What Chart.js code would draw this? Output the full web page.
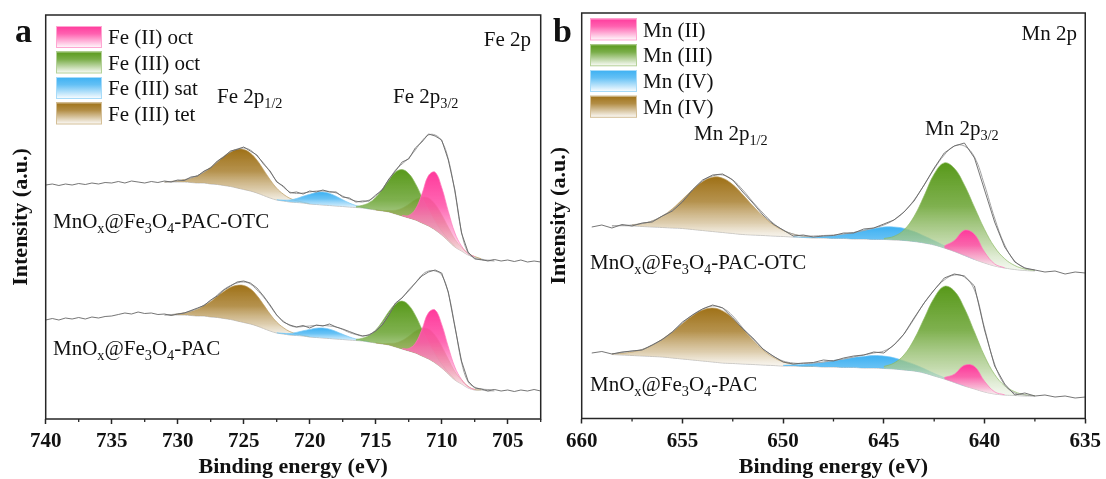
<!DOCTYPE html>
<html>
<head>
<meta charset="utf-8">
<script src="https://cdn.jsdelivr.net/npm/chart.js@4.4.0/dist/chart.umd.min.js"></script>
<style>
    html, body { margin: 0; padding: 0; background: #fff; }
    #wrap { position: relative; width: 1106px; height: 479px; overflow: hidden; }
    #feBox { position: absolute; left: 0; top: 0; }
    #mnBox { position: absolute; left: 540px; top: 0; }
</style>
</head>
<body>
<div id="wrap">
    <div id="feBox"><canvas id="feChart" width="548" height="479"></canvas></div>
    <div id="mnBox"><canvas id="mnChart" width="566" height="479"></canvas></div>
</div>
<script>
// ---- Fe 2p panel (a) ----
const feTicks = [740, 735, 730, 725, 720, 715, 710, 705];
const feMinor = [737.5, 732.5, 727.5, 722.5, 717.5, 712.5, 707.5, 702.5];

// OTC sample (upper trace)
const feOtcBase = [237,237,237,237,236.5,236,236,235,234.5,233.5,232.5,231,229.5,228,226,223.5,221,219,218,217,216.5,216,215,214.5,214,213.5,213,212.5,212,211.5,211,210,209,208,207,205,203,201,199,196,193,189,184,178,172,168,164,162,160,159,159];
const feOtcFit = [237,237.5,238,239,241,243.5,247,251.5,257,262.5,267,270,271,269,263,256,247,238,232,227,225.5,226,227,228,228,227.5,226,223,220,218,217,219,223,230,239,249,255,261,269,278,284,284,278,260,227,187,166,161,159,158.5,158];
const feOtcRaw = [234,235,233.5,235,234,235.5,234.5,236,235,236.5,236,237.5,236,238,237,236,237.5,236.5,238,237,239,238.5,242,243,248,251,258,262,268,269.5,272,268,264,255,248,237,233,226,227,225,228,227,229,227,227,222,221,217,218,218,224,229,240,248,257,260,271,277,285,283,279,259,229,186,167,160,159.5,158,159.5,158,159,157.5,159,157,158,157];
const feOtcTet1 = [0,0.6,1.2,2.4,4.3,7.3,11.5,16.8,23,29.3,34.8,38.6,40,38,33,25.8,18.3,11.8,6.9,3.7,1.8,0.8,0.3];
const feOtcSat = [0.35,0.9,2,4,6.7,9.7,12.1,13,12.1,9.7,6.7,4,2,0.9,0.35];
const feOtcOct3 = [1,2.7,6.3,12.6,21.8,32.5,41.8,46.4,44.4,36.6,26,16,8.5,3.9,1.5,0.5];
const feOtcTet2 = [0.2,0.5,1.6,3.8,7.8,13.7,20.3,25.8,28,25.8,20.3,13.7,7.8,3.8,1.6,0.5,0.2];
const feOtcOct2 = [0.4,2.6,10.6,28.9,50.5,57.8,47.5,29.6,14,5,1.4,0.3];

// PAC sample (lower trace)
const fePacBase = [104,104,104,104,103.5,103,103,102,101.5,100.5,99.5,98,96.5,95,93,90.5,88,86,85,84,83.5,83,82,81.5,81,80.5,80,79.5,79,78.5,78,77,76,75,74,72,70,68,66,63,60,56,51,45,39,35,31,29,29,28,28];
const fePacFit = [104,104.5,105,106,108,110.5,114,118.5,124,129.5,133.5,136,137,135,129,122,113,104,98,93.5,92,92.5,93,93.5,93.5,93,92,89.5,86.5,84.5,83,84.5,88.5,95.5,105,115,121.5,128,136,144,148,148,144,126,93,57,37,32,30,29.5,29];
const fePacRaw = [99,100.5,99,101,100,101.5,100,102,101,102.5,103,104.5,106,105,107,105.5,106,104.5,105,103.5,105,106,108.5,111,113.5,119,123,129,133,137,138,136,131,123,114,104,97,94,92,93.5,91,94,93,95,92,90,87.5,85,83,84,88,94,104,116,121,129,136,143,147,149,146,127,92,58,38,31,30,28,29.5,28,29,27.5,29,28,29.5,28];
const fePacTet1 = [0,1.1,2.2,4,6.8,10.6,15.5,21.3,27.1,32.2,35.7,37,35.2,30.5,23.9,16.9,10.9,6.4,3.4,1.7,0.7,0.3];
const fePacSat = [0.3,0.7,1.5,3.1,5.2,7.5,9.3,10,9.3,7.5,5.2,3.1,1.5,0.7,0.3];
const fePacOct3 = [1,2.8,6.5,13,22.5,33.5,43.1,47.9,45.8,37.8,26.8,16.5,8.8,4,1.5,0.5];
const fePacTet2 = [0.2,0.5,1.7,4.1,8.4,14.7,21.8,27.6,30,27.6,21.8,14.7,8.4,4.1,1.7,0.5,0.2];
const fePacOct2 = [0.4,2.4,9.7,26.5,46.3,53,43.6,27.1,12.8,4.6,1.3,0.3];

// ---- Mn 2p panel (b) ----
const mnTicks = [660, 655, 650, 645, 640, 635];
const mnMinor = [657.5, 652.5, 647.5, 642.5, 637.5];

const mnOtcBase = [193.5,193.2,193,192.5,192,191.5,191,190.5,189.5,188.5,187.5,186.5,185.5,184.5,184,183.5,183,182.5,182,181.5,181,181,180.5,180.5,180,180,179.5,179.5,179,178.5,177.5,176,174,171,167.5,163.5,159.5,156,153,151,149.5,148.5,148];
const mnOtcFit = [193,193.5,194,195.5,198,203,209,218,229,238,243,244,239,229,217,206,196,189,185,183,183,183.5,184,185,186.5,188.5,191,194,199,207,219,234,250,264,273,273,262,234,201,174,158,151,149];
const mnOtcRaw = [192,194,191,194.5,193,196,197,203,208,217,229,239,244,245,239,227,216,204,195,189,183,184,182,183,183.5,186,186,190,191,195,199,207,218,234,251,266,273,276,261,229,197,172,157,151,149,147,148,145,147,146];
const mnOtcIV1 = [1.3,2.9,6.1,11.4,19.2,29.1,39.7,48.9,54.3,54.3,48.9,39.7,29.1,19.2,11.4,6.1,2.9,1.3,0.5];
const mnOtcIV2 = [0.2,0.4,0.8,1.6,2.7,4.4,6.5,8.8,10.9,12.5,13,12.1,9.9,7,4.3,2.3,1.1,0.45,0.15];
const mnOtcIII = [1,3.6,10.6,25,47.2,71,85.1,83.2,70.5,52.2,33.6,18.9,9.3,4,1.5,0.5];
const mnOtcII = [2.1,11,25.2,25.2,11,2.1,0.2];

const mnPacBase = [64.5,64,63.5,63,62.5,62,61,60,59,58,57,56,55.5,55,54.5,54,53.5,53,53,52.5,52.5,52,52,51.5,51.5,51,51,50.5,50,49,48,46,43,40,36.5,33,30,27,25,24,23.5,23,23];
const mnPacFit = [65,66.5,68,69.5,74,79.5,87,96,104,110,113,111,103,91,80,70,63,58,56,55.5,56,57,58.5,60,62,64,66,68,74,85,100,116,129,139,144,142,129,91,55,34,26,24,23];
const mnPacRaw = [66,67.5,65,67,68,69,74,79.5,87,97,104,110,114,111,101,90,81,70,63,57,55,56,56.5,59,58,61,63,64,67,66,74,85,101,116,129,141,145,143,133,89,53,35,24,26,23,24,22,23,21,22];
const mnPacIV1 = [0.8,1.7,3.5,6.5,11.2,17.9,26.3,35.5,44.3,50.9,54,52.1,45.1,34.9,24.2,15,8.3,4.1,1.8,0.7,0.3];
const mnPacIV2 = [0.7,1.2,2.1,3.2,4.7,6.5,8.3,10.1,11.5,12.4,12.4,11.2,9.1,6.6,4.3,2.5,1.3,0.6,0.2];
const mnPacIII = [2,5.9,15,31.5,54.5,78.1,92.6,91.5,77.8,57,36,19.6,9.2,3.8,1.3,0.4];
const mnPacII = [1.5,8.3,20.7,22.5,10.7,2.2,0.2];

const PINK = '#ff3a9c', GREEN = '#58991a', BLUE = '#3cb0f2', BROWN = '#9f7117';
const serif = "'Times New Roman', 'Liberation Serif', serif";

function steps(a, b, d) {
    const out = [];
    for (let e = a; e >= b - 1e-9; e -= d) out.push(+e.toFixed(2));
    return out;
}

function tint(hex, t, a) {
    const n = parseInt(hex.slice(1), 16);
    const c = [n >> 16 & 255, n >> 8 & 255, n & 255].map(v => Math.round(v + (255 - v) * t));
    return `rgba(${c[0]},${c[1]},${c[2]},${a})`;
}

function pts(xs, ys) {
    return xs.map((x, i) => ({ x, y: ys[i] }));
}

function fade(hex, topV, botV) {
    return function(c) {
        const chart = c.chart;
        if (!chart.chartArea) return tint(hex, 0, 0.8);
        const y = chart.scales.y;
        const g = chart.ctx.createLinearGradient(0, y.getPixelForValue(topV), 0, y.getPixelForValue(botV));
        g.addColorStop(0, tint(hex, 0, 1));
        g.addColorStop(0.4, tint(hex, 0.15, 0.9));
        g.addColorStop(0.75, tint(hex, 0.5, 0.7));
        g.addColorStop(1, tint(hex, 0.88, 0.5));
        return g;
    };
}

// raw, fit envelope, components (top first), baseline
function addSpectrum(sets, s) {
    const baseIdx = sets.length + 2 + s.comps.length;
    sets.push({ data: pts(s.rawE, s.raw), borderColor: '#666', borderWidth: 0.9, tension: 0, fill: false });
    sets.push({ data: pts(s.fitE, s.fit), borderColor: '#a3a3a3', borderWidth: 1, tension: 0.4, fill: false });
    s.comps.forEach(c => {
        const data = c.h.map((h, k) => {
            const x = c.from - 0.5 * k;
            const b = s.base[Math.round((s.fitE[0] - x) / 0.5)];
            return { x, y: b + h };
        });
        const top = Math.max(...data.map(p => p.y));
        const bot = Math.min(...data.map((p, k) => p.y - c.h[k]));
        sets.push({
            data, borderColor: tint(c.color, 0.3, 0.85), borderWidth: 0.8, tension: 0.4,
            backgroundColor: fade(c.color, top, bot), fill: baseIdx
        });
    });
    sets.push({ data: pts(s.fitE, s.base), borderColor: '#c4c4c4', borderWidth: 1, tension: 0.4, fill: false });
}

function drawRich(ctx, x, y, parts, size, align) {
    const seg = parts.map(p => ({ t: p[0], sub: !!p[1] }));
    let w = 0;
    seg.forEach(s => {
        ctx.font = `${s.sub ? size * 0.68 : size}px ${serif}`;
        s.w = ctx.measureText(s.t).width;
        w += s.w;
    });
    let cx = align === 'right' ? x - w : x;
    seg.forEach(s => {
        ctx.font = `${s.sub ? size * 0.68 : size}px ${serif}`;
        ctx.fillText(s.t, cx, s.sub ? y + size * 0.22 : y);
        cx += s.w;
    });
}

const sampleOtc = [['MnO'], ['x', 1], ['@Fe'], ['3', 1], ['O'], ['4', 1], ['-PAC-OTC']];
const samplePac = [['MnO'], ['x', 1], ['@Fe'], ['3', 1], ['O'], ['4', 1], ['-PAC']];

function decorPlugin(d) {
    return {
        id: 'decor',
        afterDraw(chart) {
            const { ctx, chartArea: a, scales } = chart;
            ctx.save();
            ctx.strokeStyle = '#262626';
            ctx.lineWidth = 1.5;
            ctx.strokeRect(a.left, a.top, a.right - a.left, a.bottom - a.top);
            ctx.lineWidth = 1.3;
            d.minor.forEach(v => {
                const x = scales.x.getPixelForValue(v);
                ctx.beginPath();
                ctx.moveTo(x, a.bottom);
                ctx.lineTo(x, a.bottom + 3);
                ctx.stroke();
            });
            ctx.fillStyle = '#111';
            ctx.textBaseline = 'alphabetic';
            ctx.font = `bold 34px ${serif}`;
            ctx.fillText(d.letter[0], d.letter[1], d.letter[2]);
            d.legend.rows.forEach((r, i) => {
                const top = d.legend.y[i];
                const g = ctx.createLinearGradient(0, top, 0, top + d.legend.h);
                g.addColorStop(0, r[1]);
                g.addColorStop(0.35, tint(r[1], 0.2, 1));
                g.addColorStop(1, '#ffffff');
                ctx.fillStyle = g;
                ctx.fillRect(d.legend.x, top, d.legend.w, d.legend.h);
                ctx.strokeStyle = tint(r[1], 0.55, 1);
                ctx.lineWidth = 1;
                ctx.strokeRect(d.legend.x + 0.5, top + 0.5, d.legend.w - 1, d.legend.h - 1);
                ctx.fillStyle = '#111';
                ctx.font = `21px ${serif}`;
                ctx.fillText(r[0], d.legend.tx, top + 18);
            });
            d.notes.forEach(n => drawRich(ctx, n.x, n.y, n.parts, 21, n.align));
            ctx.restore();
        }
    };
}

function makeChart(id, sets, cfg) {
    return new Chart(document.getElementById(id), {
        type: 'line',
        data: { datasets: sets },
        options: {
            responsive: false,
            animation: false,
            devicePixelRatio: 1,
            layout: { padding: { top: cfg.top, right: cfg.right, left: 0, bottom: 0 } },
            elements: { point: { radius: 0 } },
            plugins: { legend: { display: false }, tooltip: { enabled: false } },
            scales: {
                x: {
                    type: 'linear', reverse: true, min: cfg.xmin, max: cfg.xmax,
                    afterBuildTicks: s => { s.ticks = cfg.ticks.map(v => ({ value: v })); },
                    afterFit: s => { s.height = cfg.xh; },
                    grid: { drawOnChartArea: false, drawTicks: true, tickLength: 5, tickColor: '#262626', tickWidth: 1.5 },
                    border: { display: false },
                    ticks: { color: '#111', padding: 5, maxRotation: 0, autoSkip: false, font: { family: serif, size: 21, weight: 'bold' } },
                    title: { display: true, text: 'Binding energy (eV)', color: '#111', padding: { top: 0, bottom: -2 }, font: { family: serif, size: 22, weight: 'bold' } }
                },
                y: {
                    min: cfg.ymin, max: cfg.ymax,
                    afterFit: s => { s.width = cfg.yw; },
                    ticks: { display: false },
                    grid: { display: false },
                    border: { display: false },
                    title: { display: true, text: 'Intensity (a.u.)', color: '#111', padding: { top: cfg.ypad, bottom: 0 }, font: { family: serif, size: 22, weight: 'bold' } }
                }
            }
        },
        plugins: [decorPlugin(cfg.decor)]
    });
}

// ---- build Fe panel ----
const feFitE = steps(731, 706, 0.5);
const feRawE = steps(740, 702.5, 0.5);
const feSets = [];
addSpectrum(feSets, {
    rawE: feRawE, raw: feOtcRaw, fitE: feFitE, fit: feOtcFit, base: feOtcBase,
    comps: [
        { from: 713, h: feOtcOct2, color: PINK },
        { from: 716.5, h: feOtcOct3, color: GREEN },
        { from: 722.5, h: feOtcSat, color: BLUE },
        { from: 715, h: feOtcTet2, color: BROWN },
        { from: 731, h: feOtcTet1, color: BROWN }
    ]
});
addSpectrum(feSets, {
    rawE: feRawE, raw: fePacRaw, fitE: feFitE, fit: fePacFit, base: fePacBase,
    comps: [
        { from: 713, h: fePacOct2, color: PINK },
        { from: 716.5, h: fePacOct3, color: GREEN },
        { from: 722.5, h: fePacSat, color: BLUE },
        { from: 715, h: fePacTet2, color: BROWN },
        { from: 730.5, h: fePacTet1, color: BROWN }
    ]
});

makeChart('feChart', feSets, {
    top: 15, right: 7.3, xh: 60, yw: 45.7, ypad: 8,
    xmin: 702.5, xmax: 740, ymin: 0, ymax: 404, ticks: feTicks,
    decor: {
        minor: feMinor,
        letter: ['a', 15, 42],
        legend: {
            x: 56, w: 46, h: 22, tx: 108, y: [26, 51.5, 77, 102.5],
            rows: [['Fe (II) oct', PINK], ['Fe (III) oct', GREEN], ['Fe (III) sat', BLUE], ['Fe (III) tet', BROWN]]
        },
        notes: [
            { x: 531, y: 46, parts: [['Fe 2p']], align: 'right' },
            { x: 217, y: 103, parts: [['Fe 2p'], ['1/2', 1]] },
            { x: 393, y: 103, parts: [['Fe 2p'], ['3/2', 1]] },
            { x: 53, y: 228, parts: sampleOtc },
            { x: 53, y: 355, parts: samplePac }
        ]
    }
});

// ---- build Mn panel ----
const mnFitE = steps(658.5, 637.5, 0.5);
const mnRawE = steps(659.5, 635, 0.5);
const mnSets = [];
addSpectrum(mnSets, {
    rawE: mnRawE, raw: mnOtcRaw, fitE: mnFitE, fit: mnOtcFit, base: mnOtcBase,
    comps: [
        { from: 642, h: mnOtcII, color: PINK },
        { from: 645, h: mnOtcIII, color: GREEN },
        { from: 649.5, h: mnOtcIV2, color: BLUE },
        { from: 657.5, h: mnOtcIV1, color: BROWN }
    ]
});
addSpectrum(mnSets, {
    rawE: mnRawE, raw: mnPacRaw, fitE: mnFitE, fit: mnPacFit, base: mnPacBase,
    comps: [
        { from: 642, h: mnPacII, color: PINK },
        { from: 645, h: mnPacIII, color: GREEN },
        { from: 650, h: mnPacIV2, color: BLUE },
        { from: 658.5, h: mnPacIV1, color: BROWN }
    ]
});

makeChart('mnChart', mnSets, {
    top: 13, right: 19.3, xh: 60.5, yw: 41.7, ypad: 6,
    xmin: 635, xmax: 660, ymin: 0.5, ymax: 406, ticks: mnTicks,
    decor: {
        minor: mnMinor,
        letter: ['b', 13, 42],
        legend: {
            x: 50, w: 47, h: 22, tx: 103, y: [18.5, 44.3, 70, 95.8],
            rows: [['Mn (II)', PINK], ['Mn (III)', GREEN], ['Mn (IV)', BLUE], ['Mn (IV)', BROWN]]
        },
        notes: [
            { x: 537, y: 40, parts: [['Mn 2p']], align: 'right' },
            { x: 154, y: 140, parts: [['Mn 2p'], ['1/2', 1]] },
            { x: 385, y: 135, parts: [['Mn 2p'], ['3/2', 1]] },
            { x: 50, y: 269, parts: sampleOtc },
            { x: 50, y: 391, parts: samplePac }
        ]
    }
});
</script>
</body>
</html>
